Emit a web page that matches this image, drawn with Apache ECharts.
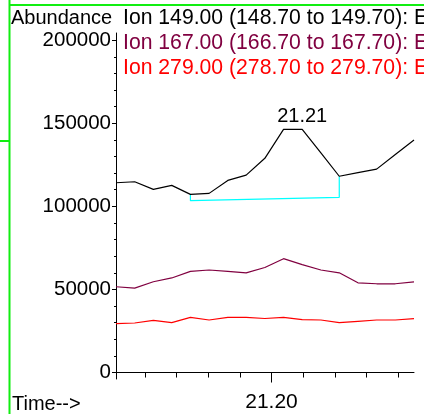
<!DOCTYPE html>
<html>
<head>
<meta charset="utf-8">
<script src="https://cdn.jsdelivr.net/npm/echarts@6/dist/echarts.min.js"></script>
<style>html,body{margin:0;padding:0;background:#fff;}#c{width:424px;height:414px;}</style>
</head>
<body>
<div id="c"></div>
<script>
// Scan times (min)
var times = [21.1509, 21.1568, 21.1627, 21.1685, 21.1744, 21.1803, 21.1862, 21.1920, 21.1979,
             21.2038, 21.2097, 21.2156, 21.2214, 21.2273, 21.2332, 21.2391, 21.2450];
// Ion 149.00
var ion149 = [114200, 114800, 110200, 112600, 107200, 107800, 115600, 118800, 128900,
              146300, 146300, 132200, 118100, 120300, 122400, 131200, 139900];
// Ion 167.00
var ion167 = [51600, 50800, 54600, 56900, 60900, 61700, 60900, 60000, 63200,
              68500, 64900, 61700, 60000, 54000, 53400, 53400, 54600];
// Ion 279.00
var ion279 = [29400, 29800, 31400, 30000, 33200, 31600, 33200, 33200, 32500,
              33200, 31800, 31600, 30000, 30800, 31600, 31600, 32400];
// integration baseline of the labelled peak
var baselineTimes = [21.1744, 21.1744, 21.2214, 21.2214];
var baselineValues = [107200, 103400, 105400, 118100];
var peakIndex = 10;
var peakLabel = "21.21";
// axes
var yMajorTicks = [0, 50000, 100000, 150000, 200000];
var yMinorTicks = [10000, 20000, 30000, 40000, 60000, 70000, 80000, 90000, 110000, 120000, 130000, 140000, 160000, 170000, 180000, 190000];
var xMinorTicks = [21.16, 21.17, 21.18, 21.19, 21.21, 21.22, 21.23, 21.24];
var xMajorTicks = [21.20];
var xMin = 21.1509, xMax = 21.2450;
var yMin = -3900, yMax = 204300;
var legendTexts = ["Ion 149.00 (148.70 to 149.70): E", "Ion 167.00 (166.70 to 167.70): E", "Ion 279.00 (278.70 to 279.70): E"];
var colors = ["#000000", "#800040", "#ff0000"];

function pairs(t, v) { return t.map(function (x, i) { return [x, v[i]]; }); }

var FONT = "Liberation Sans";
var chart = echarts.init(document.getElementById('c'), null, {renderer: 'canvas'});
chart.setOption({
  animation: false,
  backgroundColor: '#ffffff',
  grid: {left: 116, right: 10, top: 33, bottom: 35, containLabel: false},
  xAxis: [{
    type: 'value', min: xMin, max: xMax, position: 'bottom',
    axisLine: {show: true, lineStyle: {color: '#000', width: 1}},
    axisTick: {show: true, inside: false, length: 5, customValues: xMinorTicks, lineStyle: {color: '#000'}},
    axisLabel: {show: false},
    splitLine: {show: false}
  }, {
    type: 'value', min: xMin, max: xMax, position: 'bottom',
    axisLine: {show: false},
    axisTick: {show: true, inside: false, length: 10, customValues: xMajorTicks, lineStyle: {color: '#000'}},
    axisLabel: {show: true, customValues: xMajorTicks, margin: 13, fontSize: 21, fontFamily: FONT, color: '#000',
      formatter: function (v) { return v.toFixed(2); }},
    splitLine: {show: false}
  }],
  yAxis: [{
    type: 'value', min: yMin, max: yMax,
    axisLine: {show: true, lineStyle: {color: '#000', width: 1}},
    axisTick: {show: true, length: 4, customValues: yMajorTicks, lineStyle: {color: '#000'}},
    axisLabel: {show: true, customValues: yMajorTicks, margin: 5, fontSize: 20.5, fontFamily: FONT, color: '#000',
      formatter: function (v) { return String(Math.round(v)); }},
    splitLine: {show: false}
  }, {
    type: 'value', min: yMin, max: yMax, position: 'left',
    axisLine: {show: false},
    axisTick: {show: true, length: 2, customValues: yMinorTicks, lineStyle: {color: '#000'}},
    axisLabel: {show: false},
    splitLine: {show: false}
  }],
  series: [
    {type: 'line', data: pairs(times, ion149), symbol: 'none', lineStyle: {color: colors[0], width: 1.2}, z: 3,
      markPoint: {
        symbol: 'circle', symbolSize: 0, silent: true,
        label: {show: true, position: 'top', distance: 3, formatter: peakLabel, fontSize: 20, fontFamily: FONT, color: '#000'},
        data: [{coord: [times[peakIndex], ion149[peakIndex]]}]
      }},
    {type: 'line', data: pairs(times, ion167), symbol: 'none', lineStyle: {color: colors[1], width: 1.2}, z: 3},
    {type: 'line', data: pairs(times, ion279), symbol: 'none', lineStyle: {color: colors[2], width: 1.2}, z: 3},
    {type: 'line', data: pairs(baselineTimes, baselineValues), symbol: 'none', lineStyle: {color: '#00ffff', width: 1.2}, z: 2}
  ],
  graphic: [
    {type: 'text', x: 11, y: 18, style: {text: 'Abundance', fontSize: 20, fontFamily: FONT, fill: '#000', verticalAlign: 'middle'}},
    {type: 'text', x: 123, y: 18, style: {text: legendTexts[0], fontSize: 21.2, fontFamily: FONT, fill: colors[0], verticalAlign: 'middle'}},
    {type: 'text', x: 123, y: 43.5, style: {text: legendTexts[1], fontSize: 21.2, fontFamily: FONT, fill: colors[1], verticalAlign: 'middle'}},
    {type: 'text', x: 123, y: 68, style: {text: legendTexts[2], fontSize: 21.2, fontFamily: FONT, fill: colors[2], verticalAlign: 'middle'}},
    {type: 'text', x: 12, y: 404, style: {text: 'Time-->', fontSize: 20, fontFamily: FONT, fill: '#000', verticalAlign: 'middle'}},
    {type: 'line', shape: {x1: 9.5, y1: 0, x2: 9.5, y2: 414}, style: {stroke: '#11ee11', lineWidth: 2}},
    {type: 'line', shape: {x1: 9, y1: 5, x2: 424, y2: 5}, style: {stroke: '#11ee11', lineWidth: 2}},
    {type: 'line', shape: {x1: 0, y1: 141, x2: 9, y2: 141}, style: {stroke: '#11ee11', lineWidth: 2}}
  ]
});
</script>
</body>
</html>
